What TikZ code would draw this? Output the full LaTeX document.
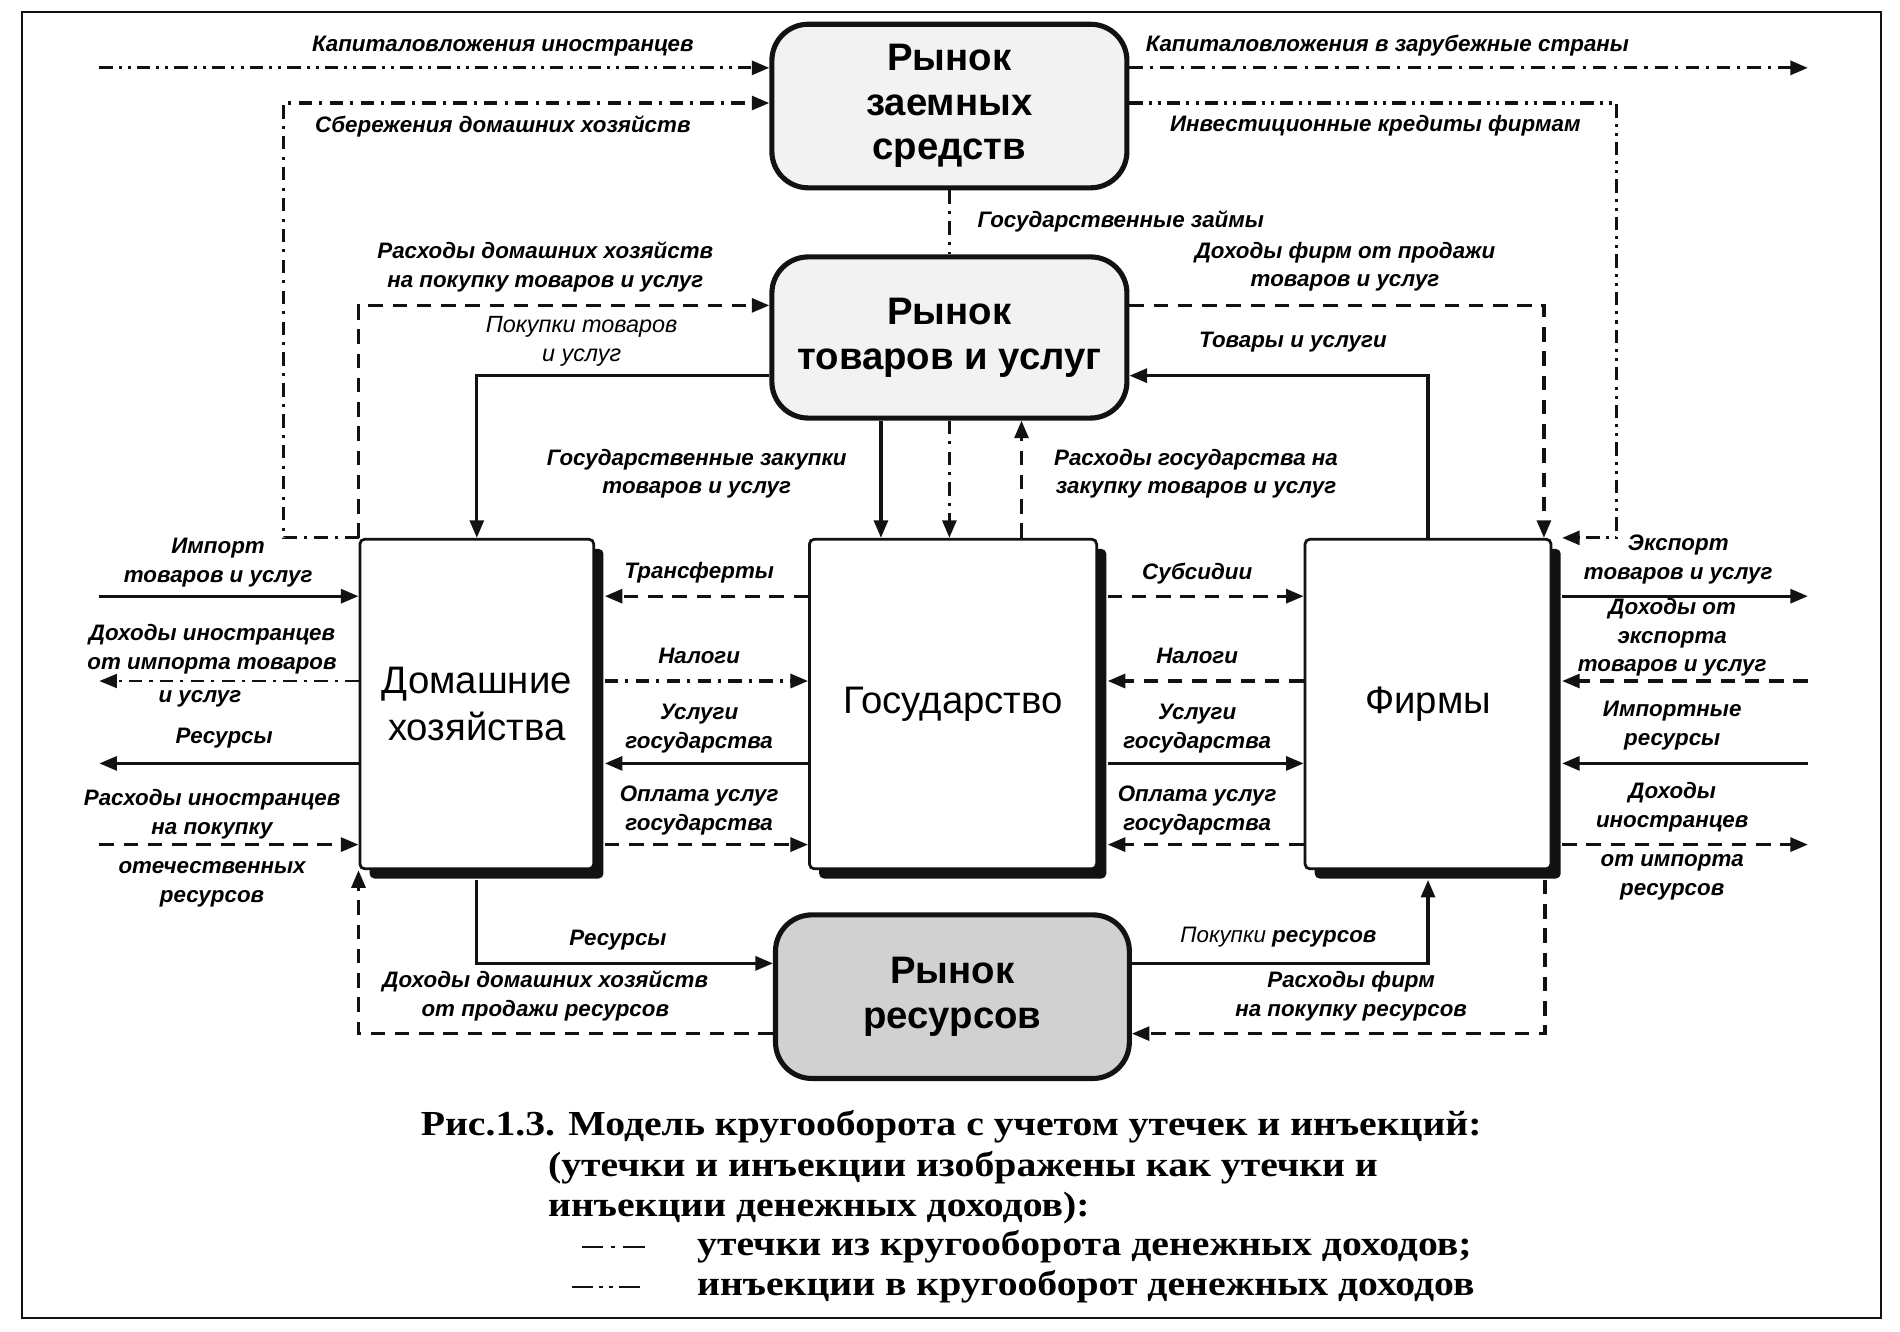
\documentclass[tikz,border=0pt]{standalone}
\usepackage{fontspec}
\setmainfont{Liberation Serif}
\setsansfont{Liberation Sans}
\newfontfamily\kfCapFont[FakeStretch=1.13]{Liberation Serif}
\usetikzlibrary{arrows.meta,shadows,calc}

\definecolor{kfInk}{gray}{0.07}
\definecolor{kfLight}{gray}{0.95}
\definecolor{kfDense}{gray}{0.82}

\tikzset{
  kfMarket/.style={draw=kfInk, line width=2.4pt, rounded corners=6mm, fill=kfLight,
    align=center, inner sep=0pt, font=\sffamily\bfseries\fontsize{18}{21}\selectfont},
  kfAgent/.style={draw=kfInk, line width=1.3pt, rounded corners=0.8mm, fill=white,
    align=center, inner sep=0pt, font=\sffamily\fontsize{18}{22}\selectfont,
    drop shadow={shadow xshift=1.6mm, shadow yshift=-1.6mm, fill=kfInk, opacity=1}},
  kfFlow/.style={draw=kfInk, line width=1.5pt, -{Triangle[length=2.9mm,width=2.3mm]}},
  kfMoney/.style={kfFlow, dash pattern=on 2.4mm off 1.6mm},
  kfLeak/.style={kfFlow, dash pattern=on 2.2mm off 1.2mm on 0.5mm off 1.2mm},
  kfInject/.style={kfFlow, dash pattern=on 2.2mm off 1mm on 0.5mm off 1mm on 0.5mm off 1mm},
  kfLabel/.style={align=center, inner sep=0pt,
    font=\sffamily\bfseries\itshape\fontsize{10.5}{13.5}\selectfont},
  kfLabelLight/.style={kfLabel, font=\sffamily\itshape\fontsize{11}{13.5}\selectfont},
  kfCaption/.style={inner sep=0pt, font=\kfCapFont\bfseries\fontsize{16.5}{18.7}\selectfont},
}

\begin{document}
\begin{tikzpicture}[x=0.2mm, y=-0.2mm]
    \useasboundingbox (0,0) rectangle (1568,1099);
    \draw[kfInk, line width=0.9pt] (18,10) rectangle (1552,1088);

    % markets and agents
    \node[kfMarket, minimum width=58.6mm, minimum height=27mm] (loanMkt) at (783.5,87.5) {Рынок\\заемных\\средств};
    \node[kfMarket, minimum width=58.6mm, minimum height=26.6mm] (goodsMkt) at (783.5,278.5) {Рынок\\товаров и услуг};
    \node[kfMarket, fill=kfDense, minimum width=58.4mm, minimum height=27mm] (resMkt) at (786,822.5) {Рынок\\ресурсов};

    \node[kfAgent, minimum width=38.6mm, minimum height=54.4mm] (hh) at (393.5,581) {Домашние\\хозяйства};
    \node[kfAgent, minimum width=47.4mm, minimum height=54.4mm] (gov) at (786.5,581) {Государство};
    \node[kfAgent, minimum width=40.6mm, minimum height=54.4mm] (firms) at (1178.5,581) {Фирмы};

    % shadow edges and outer ends
    \coordinate (hhR) at ($(hh.north east)+(8,0)$);
    \coordinate (govR) at ($(gov.north east)+(8,0)$);
    \coordinate (firmsR) at ($(firms.north east)+(8,0)$);
    \coordinate (hhB) at ($(hh.south west)+(0,8)$);
    \coordinate (firmsB) at ($(firms.south west)+(0,8)$);
    \coordinate (outW) at (82,581);
    \coordinate (outE) at (1492,581);

    % loanable funds
    \draw[kfInject] (outW |- 0,56) -- (loanMkt.west |- 0,56);
    \draw[kfLeak] (loanMkt.east |- 0,56) -- (outE |- 0,56);
    \draw[kfLeak] (hh.north west) -- ++(-62,0) |- (loanMkt.west |- 0,85);
    \draw[kfInject] (loanMkt.east |- 0,85) -| ($(firmsR)+(45,0)$) -- (firmsR);
    \draw[kfLeak, arrows=-] (loanMkt.south) -- (goodsMkt.north);
    \draw[kfLeak] (goodsMkt.south) -- (goodsMkt.south |- gov.north);

    % goods and services
    \draw[kfMoney] (hh.north west) |- (goodsMkt.west |- 0,252);
    \draw[kfFlow] (goodsMkt.west |- 0,310) -| (hh.north);
    \draw[kfMoney] (goodsMkt.east |- 0,252) -| ($(firms.north east)+(-7,0)$);
    \draw[kfFlow] (firms.north) |- (goodsMkt.east |- 0,310);
    \draw[kfFlow] (727,0 |- goodsMkt.south) -- (727,0 |- gov.north);
    \draw[kfMoney] (843,0 |- gov.north) -- (843,0 |- goodsMkt.south);

    % households and government
    \draw[kfMoney] (gov.west |- 0,492) -- (hhR |- 0,492);
    \draw[kfLeak] (hhR |- 0,562) -- (gov.west |- 0,562);
    \draw[kfFlow] (gov.west |- 0,630) -- (hhR |- 0,630);
    \draw[kfMoney] (hhR |- 0,697) -- (gov.west |- 0,697);

    % government and firms
    \draw[kfMoney] (govR |- 0,492) -- (firms.west |- 0,492);
    \draw[kfMoney] (firms.west |- 0,562) -- (govR |- 0,562);
    \draw[kfFlow] (govR |- 0,630) -- (firms.west |- 0,630);
    \draw[kfMoney] (firms.west |- 0,697) -- (govR |- 0,697);

    % abroad
    \draw[kfFlow] (outW |- 0,492) -- (hh.west |- 0,492);
    \draw[kfLeak, line width=1pt] (hh.west |- 0,562) -- (outW |- 0,562);
    \draw[kfFlow] (hh.west |- 0,630) -- (outW |- 0,630);
    \draw[kfMoney] (outW |- 0,697) -- (hh.west |- 0,697);
    \draw[kfFlow] (firmsR |- 0,492) -- (outE |- 0,492);
    \draw[kfMoney] (outE |- 0,562) -- (firmsR |- 0,562);
    \draw[kfFlow] (outE |- 0,630) -- (firmsR |- 0,630);
    \draw[kfMoney] (firmsR |- 0,697) -- (outE |- 0,697);

    % resources
    \draw[kfFlow] (hh.south |- hhB) |- (resMkt.west |- 0,795);
    \draw[kfMoney] (resMkt.west |- 0,853) -| (hh.south west);
    \draw[kfFlow] (resMkt.east |- 0,795) -| (firms.south |- firmsB);
    \draw[kfMoney] (1275,0 |- firmsB) |- (resMkt.east |- 0,853);

    % labels
    \node[kfLabel] (lCapIn) at (415,38) {Капиталовложения иностранцев};
    \node[kfLabel] (lCapOut) at (1145,38) {Капиталовложения в зарубежные страны};
    \node[kfLabel] (lSave) at (415,104) {Сбережения домашних хозяйств};
    \node[kfLabel] (lInvest) at (1135,104) {Инвестиционные кредиты фирмам};
    \node[kfLabel] (lGovLoan) at (925,183) {Государственные займы};
    \node[kfLabel] (lHhSpend) at (450,220) {Расходы домашних хозяйств\\на покупку товаров и услуг};
    \node[kfLabel] (lFirmRev) at (1110,220) {Доходы фирм от продажи\\товаров и услуг};
    \node[kfLabelLight] (lBuyGoods) at (480,282) {Покупки товаров\\и услуг};
    \node[kfLabel] (lGoods) at (1067,282) {Товары и услуги};
    \node[kfLabel] (lGovBuy) at (575,391) {Государственные закупки\\товаров и услуг};
    \node[kfLabel] (lGovSpend) at (987,391) {Расходы государства на\\закупку товаров и услуг};
    \node[kfLabel] (lImport) at (180,464) {Импорт\\товаров и услуг};
    \node[kfLabel] (lTransfer) at (577,473) {Трансферты};
    \node[kfLabel] (lSubsidy) at (988,473) {Субсидии};
    \node[kfLabel] (lExport) at (1385,462) {Экспорт\\товаров и услуг};
    \node[kfLabel] (lForIncA) at (175,536) {Доходы иностранцев\\от импорта товаров};
    \node[kfLabel] (lForIncB) at (165,577) {и услуг};
    \node[kfLabel] (lTaxHh) at (577,541) {Налоги};
    \node[kfLabel] (lTaxFirm) at (988,541) {Налоги};
    \node[kfLabel] (lExpInc) at (1380,526) {Доходы от\\экспорта\\товаров и услуг};
    \node[kfLabel] (lSrvHh) at (577,601) {Услуги\\государства};
    \node[kfLabel] (lSrvFirm) at (988,601) {Услуги\\государства};
    \node[kfLabel] (lResOut) at (185,609) {Ресурсы};
    \node[kfLabel] (lImpRes) at (1380,599) {Импортные\\ресурсы};
    \node[kfLabel] (lForSpendA) at (175,672) {Расходы иностранцев\\на покупку};
    \node[kfLabel] (lForSpendB) at (175,730) {отечественных\\ресурсов};
    \node[kfLabel] (lPayHh) at (577,669) {Оплата услуг\\государства};
    \node[kfLabel] (lPayFirm) at (988,669) {Оплата услуг\\государства};
    \node[kfLabel] (lForResA) at (1380,666) {Доходы\\иностранцев};
    \node[kfLabel] (lForResB) at (1380,724) {от импорта\\ресурсов};
    \node[kfLabel] (lResIn) at (510,776) {Ресурсы};
    \node[kfLabel] (lBuyRes) at (1055,773) {{\mdseries Покупки} ресурсов};
    \node[kfLabel] (lHhInc) at (450,822) {Доходы домашних хозяйств\\от продажи ресурсов};
    \node[kfLabel] (lFirmSpend) at (1115,822) {Расходы фирм\\на покупку ресурсов};

    % caption and legend
    \node[kfCaption] (capTitle) at (785,930) {Рис.1.3. Модель кругооборота с учетом утечек и инъекций:};
    \node[kfCaption, anchor=west, align=left] (capNote) at (452,980) {(утечки и инъекции изображены как утечки и\\инъекции денежных доходов):};
    \node[kfCaption, anchor=west] (legLeak) at (575,1029) {утечки из кругооборота денежных доходов;};
    \node[kfCaption, anchor=west] (legInject) at (575,1062) {инъекции в кругооборот денежных доходов};
    \draw[kfInk, line width=1.2pt, dash pattern=on 3.5mm off 1.4mm on 0.6mm off 1.4mm on 3.5mm off 9mm]
        ($(legLeak.west)+(-95,0)$) -- ($(legLeak.west)+(-25,0)$);
    \draw[kfInk, line width=1.2pt, dash pattern=on 3.5mm off 1mm on 0.6mm off 1mm on 0.6mm off 1mm on 3.5mm off 9mm]
        ($(legInject.west)+(-103,0)$) -- ($(legInject.west)+(-25,0)$);
\end{tikzpicture}
\end{document}
